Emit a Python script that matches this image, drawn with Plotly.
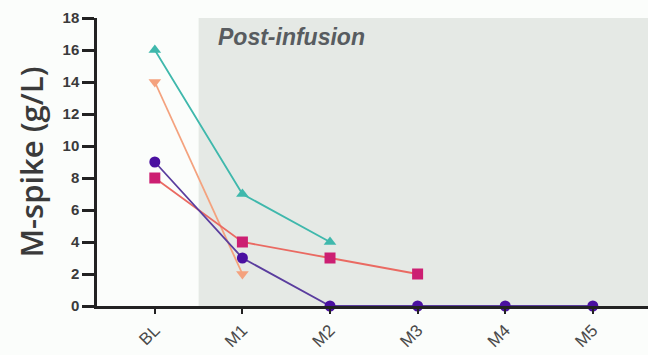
import plotly.graph_objects as go

timepoints = ["BL", "M1", "M2", "M3", "M4", "M5"]
teal_vals = [16, 7, 4]
orange_vals = [14, 2]
purple_vals = [9, 3, 0, 0, 0, 0]
magenta_vals = [8, 4, 3, 2]
y_ticks = list(range(0, 19, 2))

idx = list(range(len(timepoints)))

fig = go.Figure()
fig.add_shape(type="rect", xref="x", yref="y", x0=0.5, x1=6.5, y0=0, y1=18.2,
              fillcolor="#e5e9e5", line_width=0, layer="below")

def add(vals, linecolor, markercolor, symbol, size):
    fig.add_trace(go.Scatter(x=idx[:len(vals)], y=vals, mode="lines+markers",
                             line=dict(color=linecolor, width=1.8),
                             marker=dict(color=markercolor, symbol=symbol, size=size),
                             cliponaxis=False, showlegend=False))

add(orange_vals, "#f4a27e", "#f4a27e", "triangle-down", 11)
add(teal_vals, "#3fb8ac", "#3fb8ac", "triangle-up", 11)
add(magenta_vals, "#ea6a62", "#cc1f72", "square", 11)
add(purple_vals, "#5a3d9e", "#4a10a0", "circle", 11)

fig.add_annotation(x=0.7, y=16.8, xref="x", yref="y", text="<b><i>Post-infusion</i></b>",
                   showarrow=False, xanchor="left", yanchor="middle",
                   font=dict(family="Liberation Sans", size=23, color="#585c60"))

fig.update_layout(
    width=648, height=355,
    margin=dict(l=97, r=0, t=18, b=49),
    paper_bgcolor="#fbfdfb", plot_bgcolor="#fbfdfb",
    xaxis=dict(range=[-0.66, 5.63], tickvals=idx, ticktext=timepoints, tickangle=-45,
               showgrid=False, zeroline=False, showline=True, linecolor="#222", linewidth=2.5,
               ticks="outside", ticklen=5, tickwidth=2, tickcolor="#222",
               tickfont=dict(family="Liberation Sans", size=17, color="#4a4a4a")),
    yaxis=dict(range=[0, 18], tickvals=y_ticks, ticktext=[f"<b>{v}</b>" for v in y_ticks],
               showgrid=False, zeroline=False,
               showline=True, linecolor="#222", linewidth=2.5,
               ticks="outside", ticklen=12, tickwidth=2.5, tickcolor="#222",
               tickfont=dict(family="Liberation Sans", size=15, color="#3a3a3a"),
               title=dict(text="M-spike (g/L)", standoff=10,
                          font=dict(family="Open Sans", size=31, color="#3a3a3a", weight=600))),
)

fig.write_html("out.html")
